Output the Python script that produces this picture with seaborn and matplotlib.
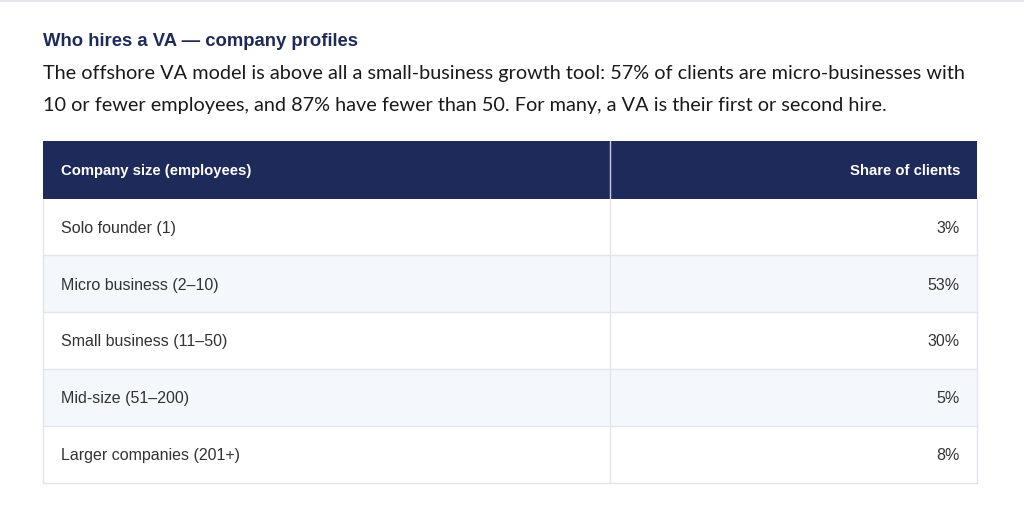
import matplotlib
matplotlib.use("Agg")
import matplotlib.pyplot as plt
from matplotlib.patches import Rectangle
import seaborn as sns

title = "Who hires a VA — company profiles"
subtitle_lines = [
    "The offshore VA model is above all a small-business growth tool: 57% of clients are micro-businesses with",
    "10 or fewer employees, and 87% have fewer than 50. For many, a VA is their first or second hire.",
]
col_headers = ["Company size (employees)", "Share of clients"]
categories = [
    "Solo founder (1)",
    "Micro business (2–10)",
    "Small business (11–50)",
    "Mid-size (51–200)",
    "Larger companies (201+)",
]
shares = [3, 53, 30, 5, 8]

sns.set_theme(style="white")
plt.rcParams["font.family"] = ["Liberation Sans", "DejaVu Sans"]

W, H = 1024, 510
fig = plt.figure(figsize=(W / 100, H / 100), dpi=100)
ax = fig.add_axes([0, 0, 1, 1])
ax.set_xlim(0, W)
ax.set_ylim(H, 0)
ax.axis("off")

navy = "#1e2a5a"
line_c = "#e2e5ec"
alt_c = "#f4f7fc"
text_c = "#333333"

# top rule
ax.plot([0, W], [2, 2], color="#e6e6ea", lw=1.5)

ax.text(43, 41, title, fontsize=13.3, fontweight="bold", color=navy,
        va="center", ha="left")
sub_y = [74, 106]
for y, s in zip(sub_y, subtitle_lines):
    ax.text(43, y, s, fontsize=14.35, color="#1a1a1a", va="center", ha="left",
            family=["Lato", "DejaVu Sans"])

x0, x1, xdiv = 43, 977, 610
head_top, head_bot = 141.5, 199.5
row_h = 56.8

ax.add_patch(Rectangle((x0, head_top), x1 - x0, head_bot - head_top,
                       facecolor=navy, edgecolor="none"))
ax.plot([xdiv, xdiv], [head_top, head_bot], color="#c8ccd8", lw=1)
hy = (head_top + head_bot) / 2 + 0.5
ax.text(61, hy, col_headers[0], fontsize=10.7, fontweight="bold", color="white",
        va="center", ha="left")
ax.text(960, hy, col_headers[1], fontsize=10.7, fontweight="bold", color="white",
        va="center", ha="right")

for i, (cat, v) in enumerate(zip(categories, shares)):
    top = head_bot + i * row_h
    bg = alt_c if i % 2 == 1 else "white"
    ax.add_patch(Rectangle((x0, top), x1 - x0, row_h, facecolor=bg,
                           edgecolor="none"))
    ax.plot([x0, x1], [top + row_h, top + row_h], color=line_c, lw=1)
    cy = top + row_h / 2 + 0.5
    ax.text(61, cy, cat, fontsize=11.5, color=text_c, va="center", ha="left")
    ax.text(960, cy, f"{v}%", fontsize=11.5, color=text_c, va="center", ha="right")

bottom = head_bot + len(categories) * row_h
ax.plot([x0, x0], [head_bot, bottom], color=line_c, lw=1)
ax.plot([x1, x1], [head_bot, bottom], color=line_c, lw=1)
ax.plot([xdiv, xdiv], [head_bot, bottom], color=line_c, lw=1)

fig.savefig("out.png", dpi=100, facecolor="white")
